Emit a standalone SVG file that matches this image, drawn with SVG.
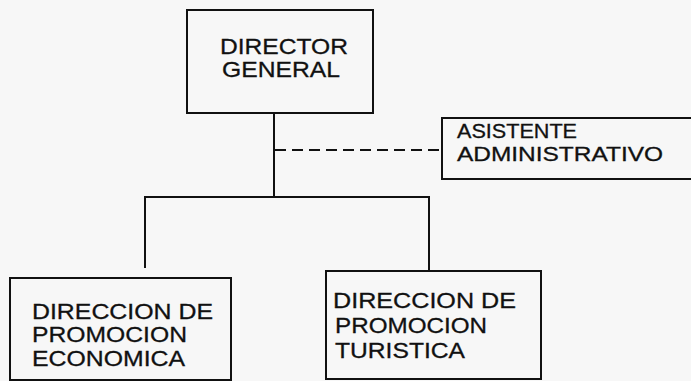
<svg xmlns="http://www.w3.org/2000/svg" width="691" height="381" viewBox="0 0 691 381">
<style>
.box{fill:none;stroke:#111;stroke-width:2}
.ln{fill:none;stroke:#111;stroke-width:2}
.dash{stroke-dasharray:11 6}
text{font-family:"Liberation Sans",Arial,sans-serif;font-size:22px;fill:#111;stroke:#111;stroke-width:0.3}
text.sm{font-size:20px}
</style>
<rect width="691" height="381" fill="#f7f7f7"/>
<g id="connectors">
<line class="ln" x1="274" y1="113" x2="274" y2="197"/>
<line class="ln dash" x1="275" y1="150" x2="442" y2="150"/>
<line class="ln" x1="144" y1="197" x2="430" y2="197"/>
<line class="ln" x1="145" y1="196" x2="145" y2="268"/>
<line class="ln" x1="429" y1="196" x2="429" y2="271"/>
</g>
<g id="director">
<rect class="box" x="187" y="10" width="186" height="103"/>
<text x="220" y="54" textLength="128" lengthAdjust="spacingAndGlyphs">DIRECTOR</text>
<text x="222" y="77" textLength="118" lengthAdjust="spacingAndGlyphs">GENERAL</text>
</g>
<g id="asistente">
<rect class="box" x="442" y="118" width="260" height="61"/>
<text class="sm" x="457" y="138" textLength="120" lengthAdjust="spacingAndGlyphs">ASISTENTE</text>
<text class="sm" x="457" y="161" textLength="206" lengthAdjust="spacingAndGlyphs">ADMINISTRATIVO</text>
</g>
<g id="economica">
<rect class="box" x="10" y="278" width="221" height="102"/>
<text x="32" y="319" textLength="181" lengthAdjust="spacingAndGlyphs">DIRECCION DE</text>
<text x="32" y="342" textLength="155" lengthAdjust="spacingAndGlyphs">PROMOCION</text>
<text x="32" y="366" textLength="153" lengthAdjust="spacingAndGlyphs">ECONOMICA</text>
</g>
<g id="turistica">
<rect class="box" x="326" y="271" width="215" height="108"/>
<text x="333" y="308" textLength="183" lengthAdjust="spacingAndGlyphs">DIRECCION DE</text>
<text x="335" y="333" textLength="152" lengthAdjust="spacingAndGlyphs">PROMOCION</text>
<text x="335" y="358" textLength="130" lengthAdjust="spacingAndGlyphs">TURISTICA</text>
</g>
</svg>
